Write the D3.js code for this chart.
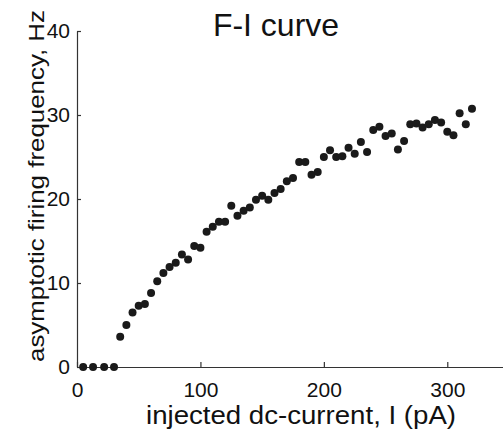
<!DOCTYPE html>
<html>
<head>
<meta charset="utf-8">
<script src="https://cdn.jsdelivr.net/npm/d3@7"></script>
<style>
  body { margin: 0; background: #fff; }
  svg { display: block; font-family: "Liberation Sans", Arial, sans-serif; }
</style>
</head>
<body>
<svg id="chart" width="503" height="436"></svg>
<script>
// injected current (pA) and asymptotic firing rate (Hz)
var current = [5, 13, 22, 30, 35, 40, 45, 50, 55, 60, 65, 70, 75, 80, 85, 90, 95, 100,
  105, 110, 115, 120, 125, 130, 135, 140, 145, 150, 155, 160, 165, 170, 175, 180,
  185, 190, 195, 200, 205, 210, 215, 220, 225, 230, 235, 240, 245, 250, 255, 260,
  265, 270, 275, 280, 285, 290, 295, 300, 305, 310, 315, 320];
var rate = [0, 0, 0, 0, 3.6, 5.0, 6.5, 7.3, 7.5, 8.8, 10.2, 11.2, 11.9, 12.4, 13.4, 12.8, 14.4, 14.2,
  16.1, 16.7, 17.3, 17.3, 19.2, 18.0, 18.6, 19.0, 19.9, 20.4, 19.9, 20.7, 21.2, 22.1, 22.5, 24.4,
  24.4, 22.9, 23.2, 25.0, 25.8, 25.0, 25.1, 26.1, 25.4, 26.8, 25.6, 28.2, 28.6, 27.5, 27.8, 25.9,
  26.9, 28.9, 29.0, 28.5, 28.9, 29.4, 29.1, 28.0, 27.6, 30.2, 28.9, 30.75];
var xTicks = [0, 100, 200, 300];
var yTicks = [0, 10, 20, 30, 40];

var margin = { top: 31, left: 77 },
    height = 336,
    width = 432;

var svg = d3.select("#chart");
var g = svg.append("g")
    .attr("transform", "translate(" + margin.left + "," + margin.top + ")");

var x = d3.scaleLinear().domain([0, 350]).range([0, width]);
var y = d3.scaleLinear().domain([0, 40]).range([height, 0]);

var xAxis = g.append("g")
    .attr("transform", "translate(0," + height + ")")
    .call(d3.axisBottom(x).tickValues(xTicks).tickSizeInner(-5).tickSizeOuter(0).tickPadding(15));

var yAxis = g.append("g")
    .call(d3.axisLeft(y).tickValues(yTicks).tickSizeInner(-4).tickSizeOuter(0).tickPadding(7));

[xAxis, yAxis].forEach(function(a) {
  a.attr("font-family", null).attr("font-size", 21);
  a.selectAll("path, line").attr("stroke", "#333").attr("stroke-width", 1.2);
  a.selectAll("text").attr("fill", "#111");
});

g.append("g")
  .selectAll("circle")
  .data(d3.zip(current, rate))
  .join("circle")
    .attr("cx", d => x(d[0]))
    .attr("cy", d => y(d[1]))
    .attr("r", 4)
    .attr("fill", "#1a1a1a");

svg.append("text")
    .attr("x", 276)
    .attr("y", 36)
    .attr("text-anchor", "middle")
    .attr("font-size", 32)
    .attr("fill", "#111")
    .text("F-I curve");

svg.append("text")
    .attr("x", 301)
    .attr("y", 424)
    .attr("text-anchor", "middle")
    .attr("font-size", 25)
    .attr("textLength", 310)
    .attr("lengthAdjust", "spacingAndGlyphs")
    .attr("fill", "#111")
    .text("injected dc-current, I (pA)");

// the y label in the figure is stretched along its length
svg.append("text")
    .attr("transform", "translate(44,186) rotate(-90)")
    .attr("text-anchor", "middle")
    .attr("font-size", 22)
    .attr("textLength", 352)
    .attr("lengthAdjust", "spacingAndGlyphs")
    .attr("fill", "#111")
    .text("asymptotic firing frequency, Hz");
</script>
</body>
</html>
